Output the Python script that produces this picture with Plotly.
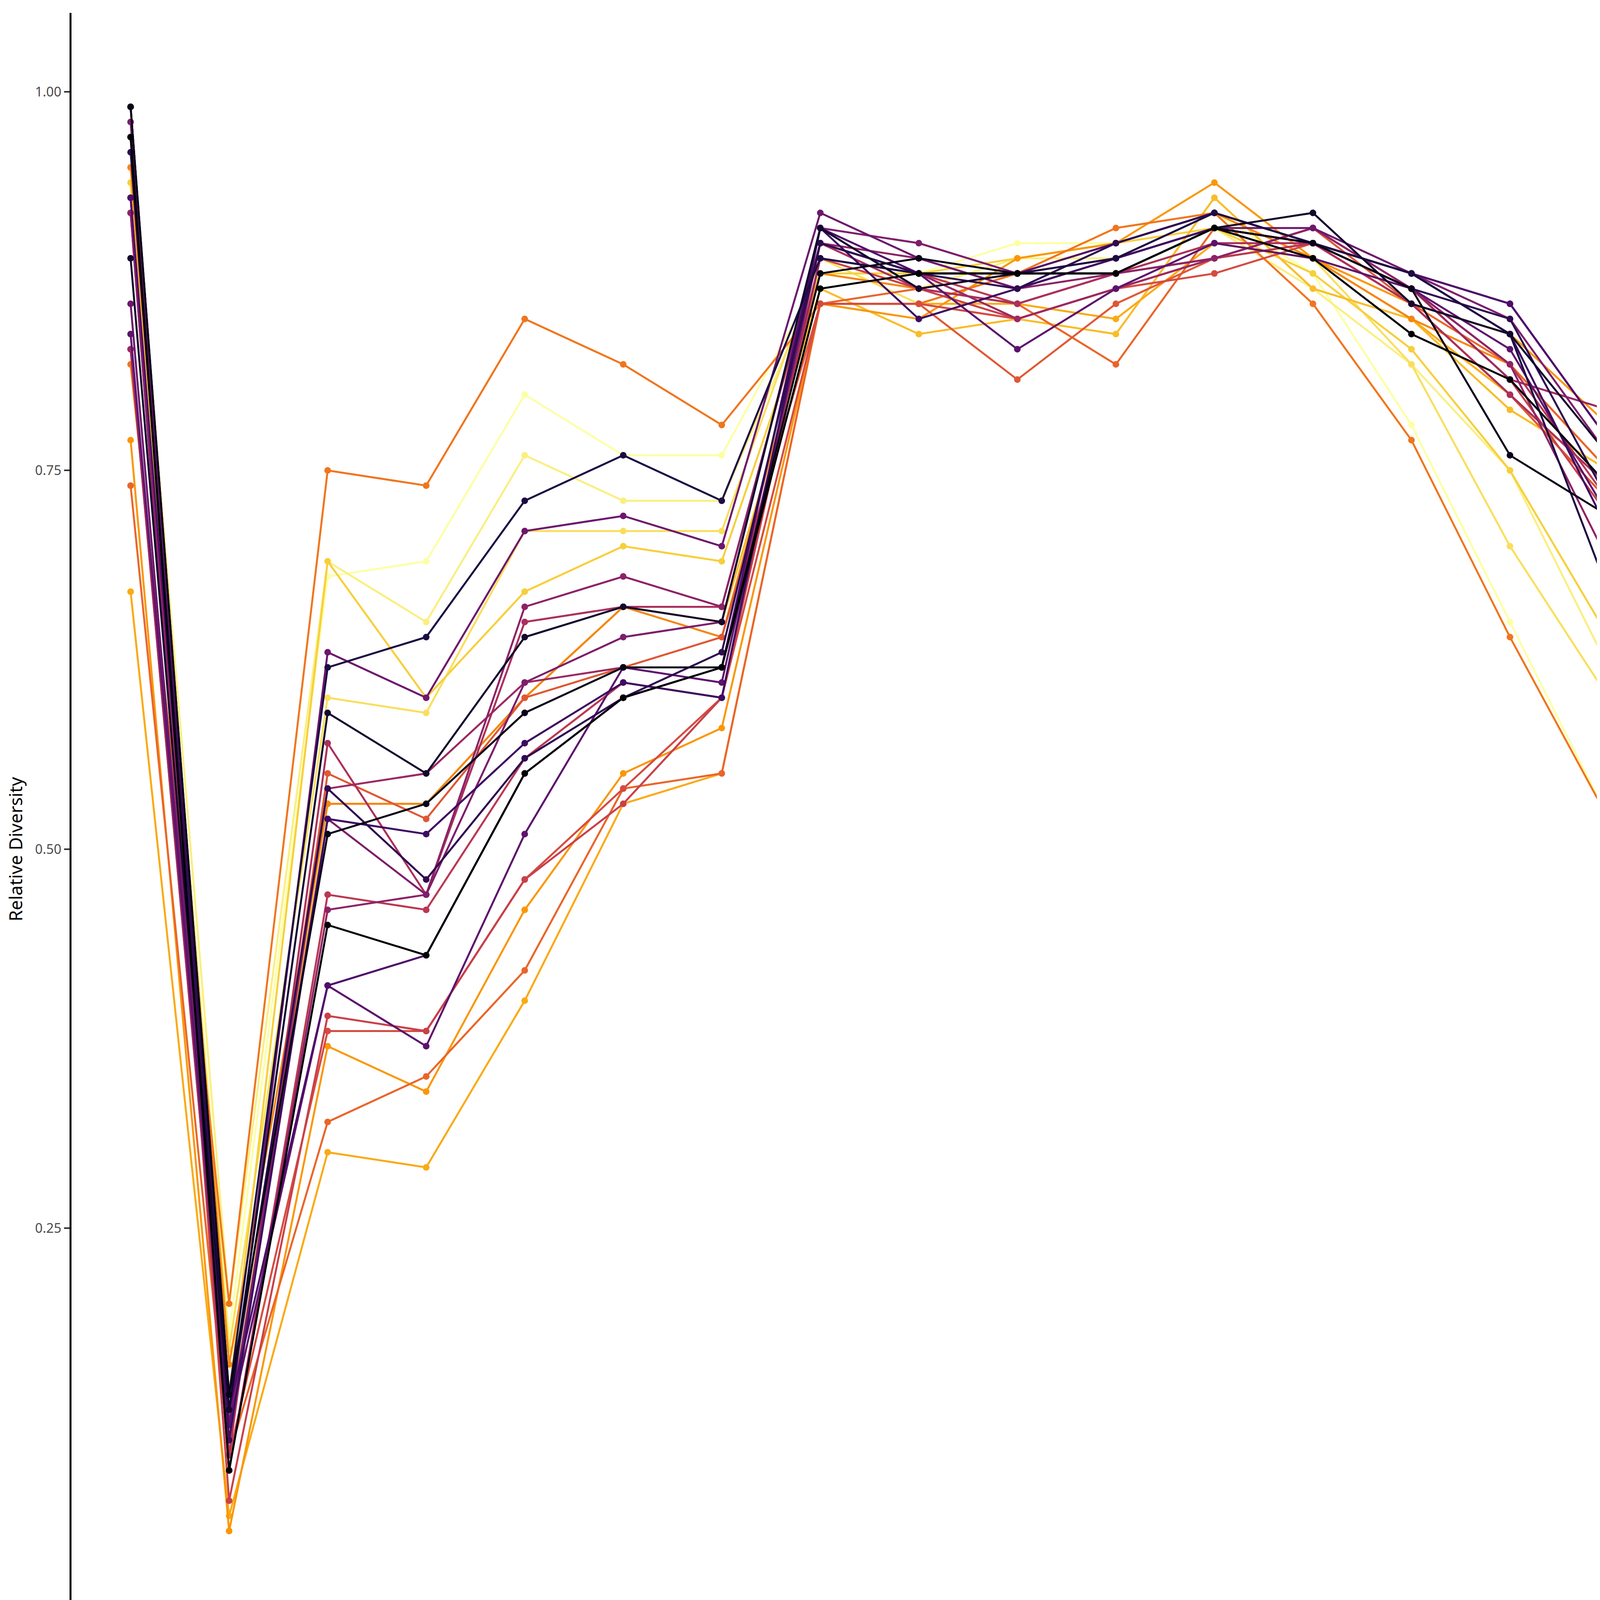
import plotly.graph_objects as go
from plotly.colors import sample_colorscale

positions = ["pos.%d" % i for i in range(1, 21)]

groups = ["CE021_entry", "CE025_entry", "CE037_entry", "CP002_entry", "CP003_entry",
          "CP003_V12", "CP003_V24", "CP006_12m", "CP006_entry", "CP006_V24",
          "CP011_entry", "CP013_12m", "CP013_1m", "CP013_24m", "CP013_entry",
          "CP016_entry", "CP017_entry", "CP018_42m", "CP018_entry", "CP018_V24",
          "CP020_V1", "CP020_V12", "CP020_V44", "CP022_entry", "CP042_entry",
          "CS005_entry", "CS015_entry"]

# relative diversity per group, pos.1 .. pos.20
CE021_entry = [.94, .18, .68, .69, .80, .76, .76, .88, .88, .90, .90, .92, .88, .78, .65, .52, .41, .25, .16, 0]
CE025_entry = [.97, .20, .69, .65, .76, .73, .73, .88, .87, .89, .89, .91, .87, .82, .75, .62, .52, .37, .30, 0]
CE037_entry = [.95, .17, .60, .59, .71, .71, .71, .89, .86, .88, .88, .90, .89, .82, .70, .60, .50, .37, .30, 0]
CP002_entry = [.94, .14, .69, .60, .67, .70, .69, .88, .88, .89, .90, .91, .88, .83, .75, .64, .55, .40, .33, 0]
CP003_entry = [.99, .12, .53, .53, .60, .66, .65, .87, .84, .85, .84, .93, .87, .85, .79, .75, .63, .50, .38, 0]
CP003_V12 = [.67, .06, .30, .29, .40, .53, .55, .86, .86, .86, .85, .90, .89, .85, .80, .73, .62, .44, .40, 0]
CP003_V24 = [.77, .05, .37, .34, .46, .55, .58, .86, .85, .89, .90, .94, .89, .86, .84, .78, .67, .51, .43, 0]
CP006_12m = [.95, .16, .53, .53, .60, .66, .64, .88, .87, .88, .90, .92, .89, .85, .82, .75, .68, .50, .38, 0]
CP006_entry = [.82, .20, .75, .74, .85, .82, .78, .86, .86, .88, .91, .92, .86, .77, .64, .52, .39, .24, .16, 0]
CP006_V24 = [.74, .10, .32, .35, .42, .54, .55, .86, .87, .86, .82, .91, .90, .86, .82, .75, .66, .56, .55, 0]
CP011_entry = [.83, .11, .55, .52, .60, .62, .64, .86, .86, .81, .86, .89, .91, .86, .80, .73, .63, .47, .37, 0]
CP013_12m = [.99, .10, .38, .38, .48, .54, .60, .86, .86, .85, .87, .88, .90, .86, .80, .74, .64, .47, .29, 0]
CP013_1m = [.93, .07, .39, .38, .48, .53, .60, .89, .87, .85, .87, .89, .90, .87, .81, .72, .62, .45, .28, 0]
CP013_24m = [.92, .09, .47, .46, .56, .61, .60, .90, .88, .86, .88, .89, .90, .87, .82, .73, .61, .44, .27, 0]
CP013_entry = [.93, .10, .57, .47, .65, .66, .66, .90, .87, .86, .88, .90, .90, .86, .80, .74, .64, .46, .30, 0]
CP016_entry = [.83, .11, .54, .55, .61, .62, .62, .89, .88, .85, .87, .89, .91, .87, .81, .79, .60, .42, .28, 0]
CP017_entry = [.92, .09, .46, .47, .66, .68, .66, .90, .89, .87, .88, .89, .91, .87, .82, .69, .54, .37, .26, 0]
CP018_42m = [.98, .12, .52, .47, .61, .64, .65, .91, .90, .88, .89, .91, .90, .88, .85, .76, .66, .43, .31, 0]
CP018_entry = [.86, .12, .63, .60, .71, .72, .70, .92, .89, .87, .89, .91, .91, .88, .86, .77, .65, .38, .27, 0]
CP018_V24 = [.84, .12, .41, .37, .51, .62, .61, .90, .88, .83, .87, .90, .89, .87, .83, .72, .56, .45, .32, 0]
CP020_V1 = [.93, .13, .41, .43, .55, .60, .62, .91, .88, .88, .90, .92, .90, .88, .86, .77, .58, .44, .35, 0]
CP020_V12 = [.97, .11, .52, .51, .57, .61, .60, .91, .85, .87, .89, .91, .90, .88, .84, .71, .57, .40, .30, 0]
CP020_V44 = [.96, .13, .54, .48, .56, .60, .63, .90, .88, .87, .90, .92, .90, .87, .85, .73, .63, .51, .40, 0]
CP022_entry = [.99, .14, .62, .64, .73, .76, .73, .89, .88, .88, .89, .92, .90, .88, .84, .67, .61, .45, .35, 0]
CP042_entry = [.89, .13, .59, .55, .64, .66, .65, .91, .87, .88, .88, .91, .92, .86, .84, .76, .66, .49, .30, 0]
CS005_entry = [.99, .14, .51, .53, .59, .62, .62, .88, .89, .88, .88, .91, .90, .87, .76, .72, .60, .43, .35, 0]
CS015_entry = [.97, .09, .45, .43, .55, .60, .62, .87, .88, .88, .88, .91, .89, .84, .81, .74, .66, .49, .35, 0]

values = [CE021_entry, CE025_entry, CE037_entry, CP002_entry, CP003_entry, CP003_V12,
          CP003_V24, CP006_12m, CP006_entry, CP006_V24, CP011_entry, CP013_12m,
          CP013_1m, CP013_24m, CP013_entry, CP016_entry, CP017_entry, CP018_42m,
          CP018_entry, CP018_V24, CP020_V1, CP020_V12, CP020_V44, CP022_entry,
          CP042_entry, CS005_entry, CS015_entry]

# inferno, light to dark
n = len(groups)
colors = sample_colorscale("Inferno", [1 - i / (n - 1) for i in range(n)])

fig = go.Figure()
for i, (g, v) in enumerate(zip(groups, values)):
    fig.add_trace(go.Scatter(
        x=positions, y=v, name=g, mode="lines+markers",
        line=dict(color=colors[i], width=5),
        marker=dict(color=colors[i], size=17),
        legend="legend" if i < 14 else "legend2",
    ))

font = "Noto Sans, Open Sans, DejaVu Sans"
fig.update_layout(
    width=6000, height=4500,
    paper_bgcolor="white", plot_bgcolor="white",
    font=dict(family=font, size=38, color="black"),
    margin=dict(l=175, r=730, t=25, b=190),
    legend=dict(title=dict(text="Groups", font=dict(size=46)), x=1.012, y=0.64,
                xanchor="left", yanchor="top", font=dict(size=38),
                tracegroupgap=0, itemwidth=60),
    legend2=dict(x=1.072, y=0.612, xanchor="left", yanchor="top",
                 font=dict(size=38), tracegroupgap=0, itemwidth=60),
)
fig.update_xaxes(
    title=dict(text="Amino Acid Residues", font=dict(size=46), standoff=10),
    range=[-0.6, 19.6], showline=True, linecolor="black", linewidth=5,
    ticks="outside", ticklen=14, tickwidth=4, tickcolor="#333333",
    tickangle=-90, tickfont=dict(size=34, color="#4d4d4d"), showgrid=False,
)
fig.update_yaxes(
    title=dict(text="Relative Diversity", font=dict(size=46), standoff=20),
    range=[-0.052, 1.052], tickvals=[0, 0.25, 0.5, 0.75, 1.0], tickformat=".2f",
    showline=True, linecolor="black", linewidth=5, zeroline=False,
    ticks="outside", ticklen=14, tickwidth=4, tickcolor="#333333",
    tickfont=dict(size=34, color="#4d4d4d"), showgrid=False,
)

fig.write_html("out.html")
